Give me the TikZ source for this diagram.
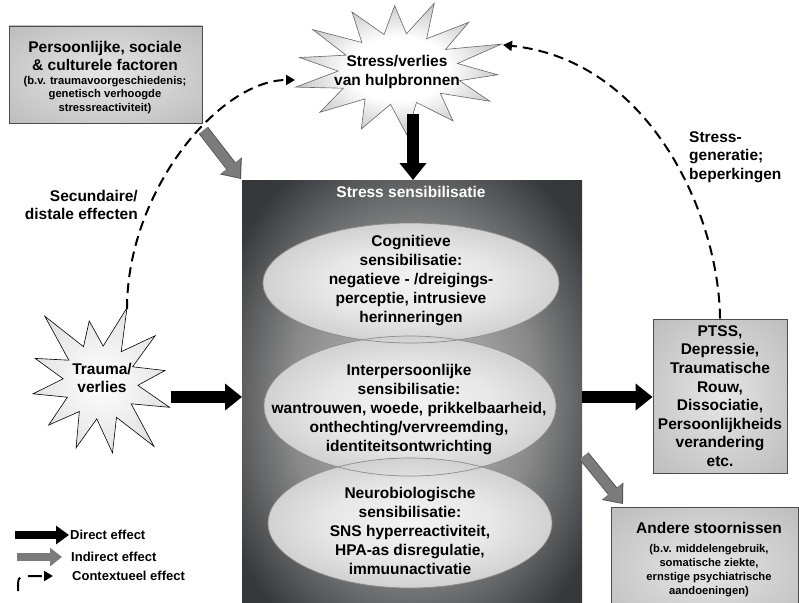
\documentclass[tikz,border=0pt]{standalone}
\usepackage{fontspec}
\setmainfont{Liberation Sans}
\usetikzlibrary{arrows.meta}
\usetikzlibrary{shapes.geometric}
\usetikzlibrary{positioning}
\definecolor{boxdark}{HTML}{373A3D}
\definecolor{boxdeep}{HTML}{2D2F32}
\definecolor{boxmid}{HTML}{8A8A8A}
\definecolor{boxlight}{HTML}{C6C6C6}
\definecolor{ellwhite}{HTML}{F2F2F2}
\definecolor{ellmid}{HTML}{E8E8E8}
\definecolor{ellgray}{HTML}{BEBEBE}
\definecolor{stargray}{HTML}{8A8A8A}
\definecolor{starmid}{HTML}{A4A4A4}
\definecolor{traumagray}{HTML}{D8D8D8}
\definecolor{tagmid}{HTML}{E6E6E6}
\definecolor{tagedge}{HTML}{BDBDBD}
\definecolor{indgray}{HTML}{7B7B7B}
\definecolor{indedge}{HTML}{4E4E4E}
\pgfdeclareradialshading{boxglow}{\pgfpoint{0bp}{0bp}}{color(0bp)=(boxlight); color(18bp)=(boxmid); color(31bp)=(boxdark); color(50bp)=(boxdeep)}
\pgfdeclareradialshading{ellglow}{\pgfpoint{0bp}{0bp}}{color(0bp)=(ellwhite); color(14bp)=(ellmid); color(34bp)=(ellgray); color(50bp)=(ellgray)}
\pgfdeclareradialshading{starglow}{\pgfpoint{0bp}{0bp}}{color(0bp)=(white); color(12bp)=(white); color(34bp)=(starmid); color(50bp)=(stargray)}
\pgfdeclareradialshading{traumaglow}{\pgfpoint{0bp}{0bp}}{color(0bp)=(white); color(35bp)=(traumagray); color(50bp)=(traumagray)}
\pgfdeclareradialshading{tagglow}{\pgfpoint{0bp}{0bp}}{color(0bp)=(tagmid); color(35bp)=(tagedge); color(50bp)=(tagedge)}
\tikzset{
  bigtxt/.style = {font=\bfseries\fontsize{15.5}{18.6}\selectfont, align=center, inner sep=0pt},
  smalltxt/.style = {font=\bfseries\fontsize{11.2}{13.3}\selectfont, align=center, inner sep=0pt},
  senstxt/.style = {font=\bfseries\fontsize{15.5}{19}\selectfont, align=center, inner sep=0pt},
  legtxt/.style = {font=\bfseries\fontsize{13}{15}\selectfont, inner sep=0pt},
  sensbox/.style = {rectangle, shade, shading=boxglow, inner sep=0pt},
  sensell/.style = {ellipse, shade, shading=ellglow, inner sep=0pt},
  ellrim/.style = {ellipse, draw=black!45, line width=0.7pt, inner sep=0pt},
  tagbox/.style = {rectangle, draw=black!70, line width=0.9pt, shade, shading=tagglow, inner sep=0pt},
  stressstar/.style = {draw=black!60, line width=0.6pt, shade, shading=starglow},
  traumastar/.style = {draw=black, line width=0.6pt, shade, shading=traumaglow},
  direct/.style = {line width=12pt, -{Triangle[length=17pt, width=26pt]}},
  indirect/.style = {indgray, line width=10pt, -{Triangle[length=15pt, width=24pt]}},
  indirectrim/.style = {indedge, line width=11.6pt, -{Triangle[length=16.5pt, width=26.5pt]}},
  context/.style = {line width=2pt, dash pattern=on 10pt off 6pt, -{Triangle[length=9pt, width=10pt]}},
  legdirect/.style = {line width=8pt, -{Triangle[length=13pt, width=18pt]}},
  legindirect/.style = {indgray, line width=8pt, -{Triangle[length=12pt, width=18pt]}}
}
\begin{document}
\begin{tikzpicture}[x=1pt, y=-1pt]
  \useasboundingbox (0,0) rectangle (799,602);
  \clip (0,0) rectangle (799,602);
  \fill[white] (0,0) rectangle (799,602);

  % stress sensibilisatie block
  \node[sensbox, minimum width=340pt, minimum height=440pt, anchor=north west] (sens) at (242,180) {};
  \node[bigtxt, white] (senstitle) at (411,192) {Stress sensibilisatie};

  \node[sensell, minimum width=296pt, minimum height=120pt] (cog) at (411,283) {};
  \node[sensell, minimum width=292pt, minimum height=140pt] (inter) at (410,406) {};
  \node[sensell, minimum width=284pt, minimum height=130pt] (neuro) at (410,523) {};
  \node[ellrim, minimum width=296pt, minimum height=120pt] (cogrim) at (cog) {};
  \node[ellrim, minimum width=292pt, minimum height=140pt] (interrim) at (inter) {};
  \node[ellrim, minimum width=284pt, minimum height=130pt] (neurorim) at (neuro) {};

  \node[senstxt] (cogtxt) at (411,281) {Cognitieve\\sensibilisatie:\\negatieve - /dreigings-\\perceptie, intrusieve\\herinneringen};
  \node[senstxt] (intertxt) at (409,410) {Interpersoonlijke\\sensibilisatie:\\wantrouwen, woede, prikkelbaarheid,\\onthechting/vervreemding,\\identiteitsontwrichting};
  \node[senstxt] (neurotxt) at (410,531) {Neurobiologische\\sensibilisatie:\\SNS hyperreactiviteit,\\HPA-as disregulatie,\\immuunactivatie};

  % stars
  \begin{scope}[shift={(398,69)}, yscale=0.66]
    \draw[stressstar] (165:106) \foreach \a/\r in {177/60, 190/100, 202/56, 215/104, 228/54, 242/98, 255/54, 268/96, 279/54, 290/106, 302/54, 315/100, 328/56, 340/110, 352/60, 5/100, 16/64, 28/104, 41/56, 55/96, 70/54, 85/100, 98/54, 112/98, 126/56, 140/102, 152/62} { -- (\a:\r) } -- cycle;
  \end{scope}
  \begin{scope}[shift={(100,382)}]
    \draw[traumastar] (-70:79) \foreach \a/\r in {-55/37, -40/72, -25/36, -10/66, 5/38, 20/74, 35/38, 50/84, 65/39, 80/72, 95/37, 110/70, 125/36, 140/67, 155/36, 170/68, 185/37, 200/69, 215/38, 230/86, 245/39, 260/62, 275/36} { -- (\a:\r) } -- cycle;
  \end{scope}
  \node[bigtxt] (stress) at (397,72) {Stress/verlies\\van hulpbronnen};
  \node[bigtxt] (trauma) at (102,378) {Trauma/\\verlies};

  % outcome boxes
  \node[tagbox, minimum width=193pt, minimum height=97pt] (persfac) at (105.5,74.5) {};
  \node[bigtxt] (perstitle) at (105,56) {Persoonlijke, sociale\\\& culturele factoren};
  \node[smalltxt] (persnote) at (105,95) {(b.v. traumavoorgeschiedenis;\\genetisch verhoogde\\stressreactiviteit)};

  \node[tagbox, bigtxt, minimum width=134pt, minimum height=154pt] (ptss) at (720,396) {PTSS,\\Depressie,\\Traumatische\\Rouw,\\Dissociatie,\\Persoonlijkheids\\verandering\\etc.};

  \node[tagbox, minimum width=187pt, minimum height=120pt, anchor=north west] (andere) at (611,507) {};
  \node[bigtxt] (anderetitle) at (709,528) {Andere stoornissen};
  \node[smalltxt, font=\bfseries\fontsize{11.2}{14}\selectfont] (anderenote) at (709,571) {(b.v. middelengebruik,\\somatische ziekte,\\ernstige psychiatrische\\aandoeningen)};

  % connectors
  \coordinate (traumatop) at (127,309);
  \coordinate (traumatip) at (171,397);
  \coordinate (stressleft) at (295,80);
  \coordinate (stressright) at (503,45);
  \coordinate (stressfoot) at (413,114);
  \coordinate (ind1) at ([shift={(1,7)}]persfac.south east);
  \coordinate (ind2) at (584,456);

  \draw[context] (traumatop) .. controls (127,190) and (220,80) .. (stressleft);
  \draw[context] (ptss.north) .. controls (719,215) and (650,60) .. (stressright);

  \draw[direct] (stressfoot) -- (stressfoot |- sens.north);
  \draw[direct] (traumatip) -- (traumatip -| sens.west);
  \draw[direct] (traumatip -| sens.east) -- (traumatip -| ptss.west);

  \draw[indirectrim] (ind1) -- ([shift={(-1,-1)}]sens.north west);
  \draw[indirect] (ind1) -- ([shift={(-2,-2)}]sens.north west);
  \draw[indirectrim] (ind2) -- ([shift={(12,-3)}]andere.north west);
  \draw[indirect] (ind2) -- ([shift={(11,-4)}]andere.north west);

  \node[bigtxt, align=right, anchor=east] (secund) at (138,205) {Secundaire/\\distale effecten};
  \node[bigtxt, align=left, anchor=west] (stressgen) at (689,157) {Stress-\\generatie;\\beperkingen};

  % legend
  \coordinate (legdirA) at (15,535);
  \coordinate (legdirB) at (69,535);
  \coordinate (legindA) at (17,557);
  \coordinate (legindB) at (62,557);
  \coordinate (legconA) at (18,591);
  \coordinate (legconB) at (53,576);
  \draw[legdirect] (legdirA) -- (legdirB);
  \draw[legindirect] (legindA) -- (legindB);
  \draw[context, dash pattern=on 14pt off 8pt] (legconA) .. controls (18,577) .. (27,576) -- (legconB);
  \node[legtxt, right=1pt of legdirB] (legdir) {Direct effect};
  \node[legtxt, right=9pt of legindB] (legind) {Indirect effect};
  \node[legtxt, right=19pt of legconB] (legcon) {Contextueel effect};
\end{tikzpicture}
\end{document}
